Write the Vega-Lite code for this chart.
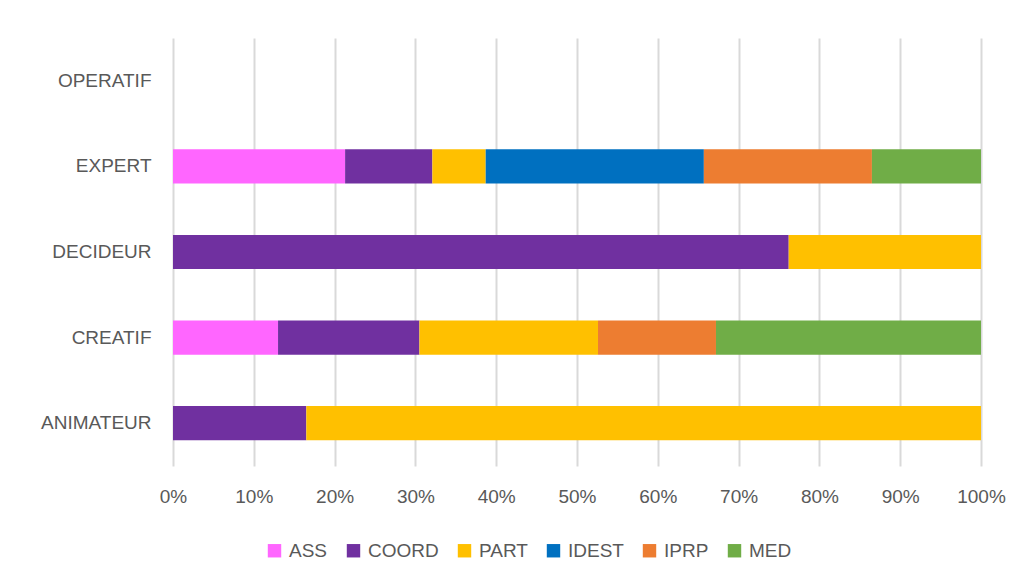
{
  "$schema": "https://vega.github.io/schema/vega-lite/v6.json",
  "width": 808,
  "height": 428,
  "autosize": "none",
  "padding": {"left": 173, "top": 38, "right": 45, "bottom": 119},
  "background": "white",
  "data": {"values": [
    {"cat": "EXPERT", "grp": "ASS", "o": 1, "v": 21.3},
    {"cat": "EXPERT", "grp": "COORD", "o": 2, "v": 10.8},
    {"cat": "EXPERT", "grp": "PART", "o": 3, "v": 6.6},
    {"cat": "EXPERT", "grp": "IDEST", "o": 4, "v": 27.0},
    {"cat": "EXPERT", "grp": "IPRP", "o": 5, "v": 20.8},
    {"cat": "EXPERT", "grp": "MED", "o": 6, "v": 13.5},
    {"cat": "DECIDEUR", "grp": "COORD", "o": 2, "v": 76.2},
    {"cat": "DECIDEUR", "grp": "PART", "o": 3, "v": 23.8},
    {"cat": "CREATIF", "grp": "ASS", "o": 1, "v": 13.0},
    {"cat": "CREATIF", "grp": "COORD", "o": 2, "v": 17.5},
    {"cat": "CREATIF", "grp": "PART", "o": 3, "v": 22.1},
    {"cat": "CREATIF", "grp": "IPRP", "o": 5, "v": 14.6},
    {"cat": "CREATIF", "grp": "MED", "o": 6, "v": 32.8},
    {"cat": "ANIMATEUR", "grp": "COORD", "o": 2, "v": 16.5},
    {"cat": "ANIMATEUR", "grp": "PART", "o": 3, "v": 83.5}
  ]},
  "mark": {"type": "bar"},
  "encoding": {
    "y": {"field": "cat", "type": "nominal",
      "scale": {"domain": ["OPERATIF", "EXPERT", "DECIDEUR", "CREATIF", "ANIMATEUR"], "paddingInner": 0.6, "paddingOuter": 0.3},
      "axis": {"title": null, "domain": false, "ticks": false, "labelPadding": 22, "labelFontSize": 19, "labelColor": "#595959", "labelFont": "Liberation Sans"}},
    "x": {"field": "v", "type": "quantitative", "stack": "normalize",
      "scale": {"domain": [0, 1], "nice": false},
      "axis": {"title": null, "format": "%", "values": [0,0.1,0.2,0.3,0.4,0.5,0.6,0.7,0.8,0.9,1], "labelOverlap": false, "labelFlush": false, "domain": false, "ticks": false, "labelPadding": 21, "labelFontSize": 19, "labelColor": "#595959", "labelFont": "Liberation Sans", "gridColor": "#d9d9d9", "gridWidth": 2}},
    "color": {"field": "grp", "type": "nominal",
      "scale": {"domain": ["ASS", "COORD", "PART", "IDEST", "IPRP", "MED"], "range": ["#FF66FF", "#7030A0", "#FFC000", "#0070C0", "#ED7D31", "#70AD47"]},
      "legend": {"title": null, "orient": "none", "direction": "horizontal", "legendX": 92, "legendY": 503, "symbolType": "square", "symbolSize": 180, "symbolStrokeWidth": 0, "labelFontSize": 19, "labelColor": "#595959", "labelFont": "Liberation Sans", "columnPadding": 16, "symbolOffset": 0, "labelOffset": 5}},
    "order": {"field": "o", "type": "quantitative"}
  },
  "config": {"view": {"stroke": null}}
}
